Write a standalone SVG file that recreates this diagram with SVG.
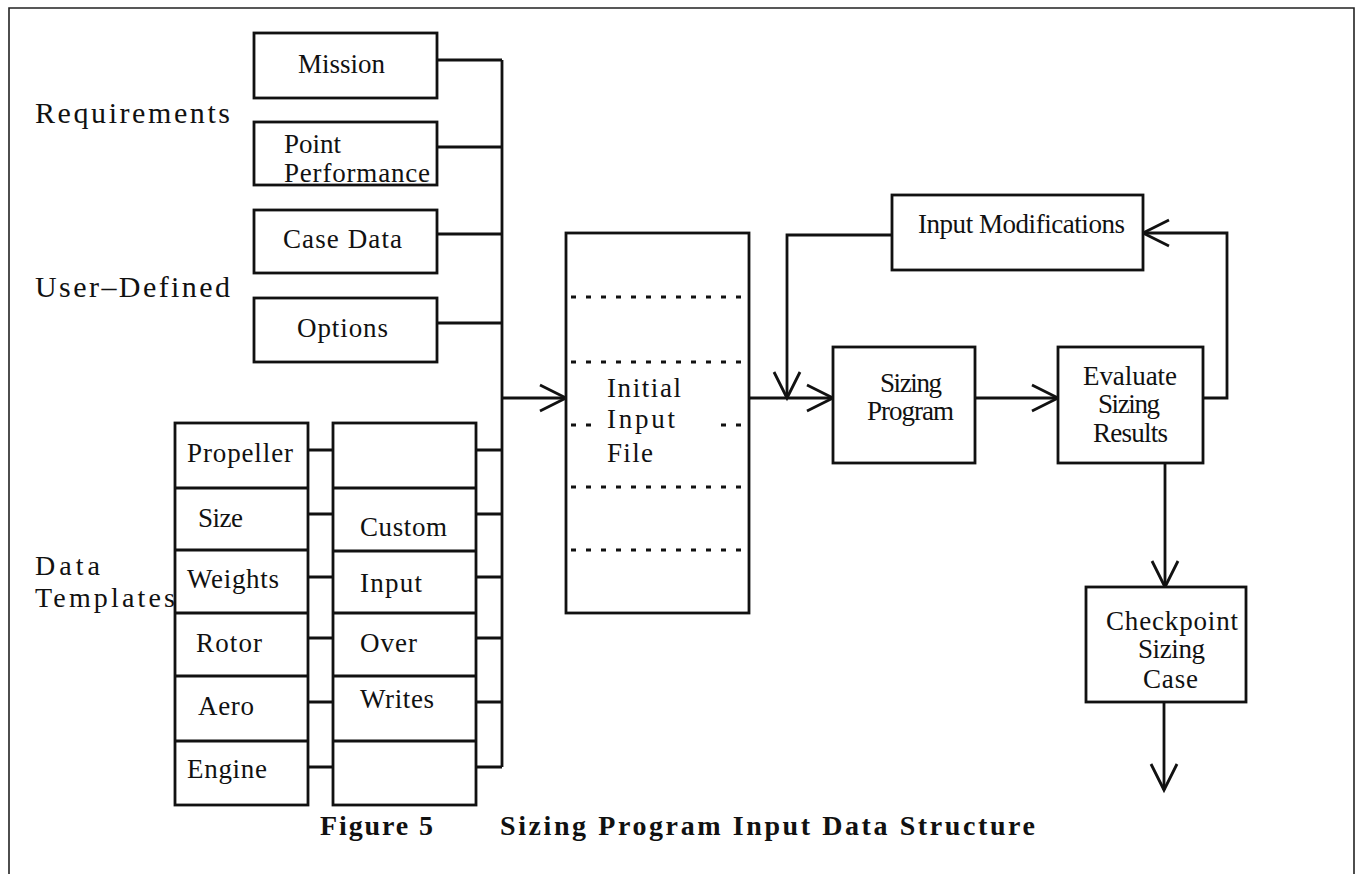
<svg xmlns="http://www.w3.org/2000/svg" width="1358" height="874" viewBox="0 0 1358 874">
  <style>
    .bx { fill: #fff; stroke: #111; stroke-width: 2.8; }
    .ln { fill: none; stroke: #111; stroke-width: 2.8; }
    .dot { fill: none; stroke: #111; stroke-width: 3; stroke-dasharray: 5 10; }
    .t { font-family: "Liberation Serif", "Times New Roman", serif; font-size: 27px; fill: #111; }
    .lbl { font-family: "Liberation Serif", "Times New Roman", serif; font-size: 30px; fill: #111; }
    .lbs { font-family: "Liberation Serif", "Times New Roman", serif; font-size: 28px; fill: #111; }
    .cap { font-family: "Liberation Serif", "Times New Roman", serif; font-size: 28px; font-weight: bold; fill: #111; }
  </style>
  <defs>
    <marker id="v" markerWidth="32" markerHeight="32" refX="28" refY="15" orient="auto" markerUnits="userSpaceOnUse">
      <path d="M2,2 L28,15 L2,28" fill="none" stroke="#111" stroke-width="2.8"/>
    </marker>
  </defs>
  <rect width="1358" height="874" fill="#fff"/>

  <!-- frame -->
  <path d="M9,874 V8 H1354 V874" fill="none" stroke="#222" stroke-width="1.6"/>

  <!-- group labels -->
  <g id="group-labels">
    <text class="lbl" x="35" y="123" textLength="195" lengthAdjust="spacing">Requirements</text>
    <text class="lbl" x="35" y="297" textLength="195" lengthAdjust="spacing">User–Defined</text>
    <text class="lbs" x="35" y="575" textLength="65" lengthAdjust="spacing">Data</text>
    <text class="lbs" x="35" y="607" textLength="140" lengthAdjust="spacing">Templates</text>
  </g>

  <!-- connectors -->
  <g id="connectors">
    <!-- requirement / user-defined inputs onto the bus -->
    <path class="ln" d="M437,60 H502 M437,147 H502 M437,234 H502 M437,323 H502"/>
    <!-- template rows to custom input over-writes -->
    <path class="ln" d="M308,450 H333 M308,514 H333 M308,577 H333 M308,638 H333 M308,702 H333 M308,767 H333"/>
    <!-- custom input over-writes onto the bus -->
    <path class="ln" d="M476,450 H502 M476,514 H502 M476,577 H502 M476,638 H502 M476,702 H502 M476,767 H502"/>
    <!-- bus -->
    <path class="ln" d="M502,60 V767"/>
    <!-- bus into initial input file -->
    <path class="ln" d="M502,398 H566" marker-end="url(#v)"/>
    <!-- initial input file to sizing program -->
    <path class="ln" d="M749,398 H833" marker-end="url(#v)"/>
    <!-- input modifications back into the flow -->
    <path class="ln" d="M892,235 H787 V398" marker-end="url(#v)"/>
    <!-- sizing program to evaluation -->
    <path class="ln" d="M975,398 H1058" marker-end="url(#v)"/>
    <!-- evaluation loop to input modifications -->
    <path class="ln" d="M1203,398 H1227 V233 H1143" marker-end="url(#v)"/>
    <!-- evaluation to checkpoint -->
    <path class="ln" d="M1165,463 V587" marker-end="url(#v)"/>
    <!-- checkpoint output -->
    <path class="ln" d="M1164,702 V790" marker-end="url(#v)"/>
  </g>

  <g id="mission">
    <rect class="bx" x="254" y="33" width="183" height="65"/>
    <text class="t" x="298" y="73" textLength="87" lengthAdjust="spacing">Mission</text>
  </g>
  <g id="point-performance">
    <rect class="bx" x="254" y="122" width="183" height="63"/>
    <text class="t" x="284" y="153">Point</text>
    <text class="t" x="284" y="182" textLength="146" lengthAdjust="spacing">Performance</text>
  </g>
  <g id="case-data">
    <rect class="bx" x="254" y="210" width="183" height="63"/>
    <text class="t" x="283" y="248" textLength="119" lengthAdjust="spacing">Case Data</text>
  </g>
  <g id="options">
    <rect class="bx" x="254" y="298" width="183" height="64"/>
    <text class="t" x="297" y="337" textLength="91" lengthAdjust="spacing">Options</text>
  </g>

  <g id="data-templates">
    <rect class="bx" x="175" y="423" width="133" height="382"/>
    <path class="ln" d="M175,488 H308 M175,550 H308 M175,613 H308 M175,676 H308 M175,741 H308"/>
    <text class="t" x="187" y="462" textLength="106" lengthAdjust="spacing">Propeller</text>
    <text class="t" x="198" y="527" textLength="45" lengthAdjust="spacing">Size</text>
    <text class="t" x="187" y="588" textLength="92" lengthAdjust="spacing">Weights</text>
    <text class="t" x="196" y="652" textLength="66" lengthAdjust="spacing">Rotor</text>
    <text class="t" x="198" y="715" textLength="56" lengthAdjust="spacing">Aero</text>
    <text class="t" x="187" y="778" textLength="80" lengthAdjust="spacing">Engine</text>
  </g>

  <g id="custom-input-overwrites">
    <rect class="bx" x="333" y="423" width="143" height="382"/>
    <path class="ln" d="M333,488 H476 M333,551 H476 M333,613 H476 M333,676 H476 M333,741 H476"/>
    <text class="t" x="360" y="536" textLength="87" lengthAdjust="spacing">Custom</text>
    <text class="t" x="360" y="592" textLength="62" lengthAdjust="spacing">Input</text>
    <text class="t" x="360" y="652" textLength="57" lengthAdjust="spacing">Over</text>
    <text class="t" x="360" y="708" textLength="74" lengthAdjust="spacing">Writes</text>
  </g>

  <g id="initial-input-file">
    <rect class="bx" x="566" y="233" width="183" height="380"/>
    <path class="dot" d="M571,297 H747 M571,362 H747 M571,487 H747 M571,550 H747"/>
    <path class="dot" d="M571,425 H592 M721,425 H747"/>
    <text class="t" x="607" y="397" textLength="74" lengthAdjust="spacing">Initial</text>
    <text class="t" x="607" y="428" textLength="68" lengthAdjust="spacing">Input</text>
    <text class="t" x="607" y="462" textLength="46" lengthAdjust="spacing">File</text>
  </g>

  <g id="input-modifications">
    <rect class="bx" x="892" y="195" width="251" height="75"/>
    <text class="t" x="918" y="233" textLength="207" lengthAdjust="spacing">Input Modifications</text>
  </g>

  <g id="sizing-program">
    <rect class="bx" x="833" y="347" width="142" height="116"/>
    <text class="t" x="880" y="392" textLength="62" lengthAdjust="spacing">Sizing</text>
    <text class="t" x="867" y="420" textLength="87" lengthAdjust="spacing">Program</text>
  </g>

  <g id="evaluate-sizing-results">
    <rect class="bx" x="1058" y="347" width="145" height="116"/>
    <text class="t" x="1083" y="385" textLength="94" lengthAdjust="spacing">Evaluate</text>
    <text class="t" x="1098" y="413" textLength="62" lengthAdjust="spacing">Sizing</text>
    <text class="t" x="1093" y="442" textLength="75" lengthAdjust="spacing">Results</text>
  </g>

  <g id="checkpoint-sizing-case">
    <rect class="bx" x="1086" y="587" width="160" height="115"/>
    <text class="t" x="1106" y="630" textLength="132" lengthAdjust="spacing">Checkpoint</text>
    <text class="t" x="1138" y="658" textLength="67" lengthAdjust="spacing">Sizing</text>
    <text class="t" x="1143" y="688" textLength="55" lengthAdjust="spacing">Case</text>
  </g>

  <g id="caption">
    <text class="cap" x="320" y="835" textLength="113" lengthAdjust="spacing">Figure 5</text>
    <text class="cap" x="500" y="835" textLength="535" lengthAdjust="spacing">Sizing Program Input Data Structure</text>
  </g>
</svg>
